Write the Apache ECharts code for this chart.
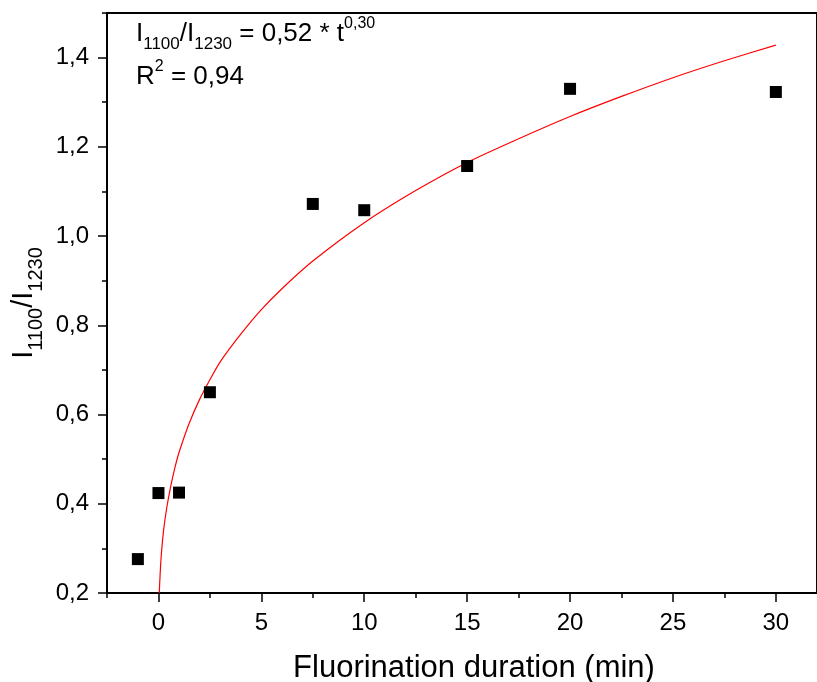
<!DOCTYPE html>
<html>
<head>
<meta charset="utf-8">
<script src="https://cdn.jsdelivr.net/npm/echarts@6/dist/echarts.min.js"></script>
<style>
html,body{margin:0;padding:0;background:#fff;}
#chart{width:817px;height:682px;}
</style>
</head>
<body>
<div id="chart"></div>
<script>
// Measured points
const durations = [-1, 0, 1, 2.5, 7.5, 10, 15, 20, 30];
const ratios = [0.276, 0.424, 0.425, 0.650, 1.072, 1.058, 1.157, 1.330, 1.323];

// Fitted curve
const fitT = [0.04, 0.06, 0.1, 0.15, 0.25, 0.4, 0.6, 0.8, 1, 1.5, 2, 2.5, 3, 4, 5, 6, 7.5, 10, 12.5, 15, 17.5, 20, 22.5, 25, 27.5, 30];
const fitY = [0.2, 0.221, 0.258, 0.292, 0.341, 0.39, 0.44, 0.481, 0.515, 0.581, 0.634, 0.678, 0.718, 0.780, 0.835, 0.882, 0.944, 1.030, 1.102, 1.165, 1.218, 1.268, 1.313, 1.355, 1.393, 1.428];

// Ticks
const xTickValues = [0, 5, 10, 15, 20, 25, 30];
const xMinorValues = [-2.5, 2.5, 7.5, 12.5, 17.5, 22.5, 27.5];
const yTickValues = [0.2, 0.4, 0.6, 0.8, 1.0, 1.2, 1.4];
const yMinorValues = [0.3, 0.5, 0.7, 0.9, 1.1, 1.3, 1.5];

const FONT = "'Liberation Sans', Arial, Helvetica, sans-serif";
const chart = echarts.init(document.getElementById('chart'));

const pointData = durations.map((d, i) => [d, ratios[i]]);
const fitData = fitT.map((t, i) => [t, fitY[i]]);

const axisLineStyle = { color: '#000', width: 2 };

const annRich = {
  m: { fontSize: 26, lineHeight: 46, fontFamily: FONT, padding: [11, 0, 0, 0], verticalAlign: 'top', fill: '#000' },
  s: { fontSize: 17, lineHeight: 46, fontFamily: FONT, padding: [26, 0, 0, 0], verticalAlign: 'top', fill: '#000' },
  p: { fontSize: 16, lineHeight: 46, fontFamily: FONT, padding: [6, 0, 0, 0], verticalAlign: 'top', fill: '#000' }
};

chart.setOption({
  animation: false,
  backgroundColor: '#fff',
  grid: {
    left: 107, top: 13, right: 0, bottom: 89,
    show: true, borderColor: '#000', borderWidth: 2, backgroundColor: 'transparent'
  },
  xAxis: [
    {
      type: 'value', min: -2.5, max: 32, position: 'bottom',
      axisLine: { show: true, onZero: false, lineStyle: axisLineStyle },
      axisTick: { show: true, customValues: xTickValues, length: 9, lineStyle: { color: '#000', width: 1.5 } },
      axisLabel: { customValues: xTickValues, fontSize: 24, fontFamily: FONT, color: '#000', margin: 18,
        formatter: v => String(v).replace('.', ',') },
      splitLine: { show: false }
    },
    {
      type: 'value', min: -2.5, max: 32, position: 'bottom', offset: 0,
      axisLine: { show: false, onZero: false },
      axisTick: { show: true, customValues: xMinorValues, length: 5, lineStyle: { color: '#000', width: 1.5 } },
      axisLabel: { show: false },
      splitLine: { show: false }
    }
  ],
  yAxis: [
    {
      type: 'value', min: 0.2, max: 1.5, position: 'left',
      axisLine: { show: true, onZero: false, lineStyle: axisLineStyle },
      axisTick: { show: true, customValues: yTickValues, length: 9, lineStyle: { color: '#000', width: 1.5 } },
      axisLabel: { customValues: yTickValues, fontSize: 24, fontFamily: FONT, color: '#000', margin: 18,
        formatter: v => v.toFixed(1).replace('.', ',') },
      splitLine: { show: false }
    },
    {
      type: 'value', min: 0.2, max: 1.5, position: 'left', offset: 0,
      axisLine: { show: false, onZero: false },
      axisTick: { show: true, customValues: yMinorValues, length: 5, lineStyle: { color: '#000', width: 1.5 } },
      axisLabel: { show: false },
      splitLine: { show: false }
    }
  ],
  series: [
    {
      type: 'line', data: fitData, xAxisIndex: 0, yAxisIndex: 0,
      showSymbol: false, smooth: 0.25,
      lineStyle: { color: '#ff0000', width: 1.2 }, z: 2, clip: true
    },
    {
      type: 'scatter', data: pointData, xAxisIndex: 0, yAxisIndex: 0,
      symbol: 'rect', symbolSize: 12,
      itemStyle: { color: '#000', opacity: 1 }, z: 3
    }
  ],
  graphic: [
    {
      type: 'text', x: 136, y: 9.6,
      style: {
        text: '{m|I}{s|1100}{m|/I}{s|1230}{m| = 0,52 * t}{p|0,30}',
        fill: '#000', verticalAlign: 'top', align: 'left', rich: annRich
      }
    },
    {
      type: 'text', x: 136, y: 52.9,
      style: {
        text: '{m|R}{p|2}{m| = 0,94}',
        fill: '#000', verticalAlign: 'top', align: 'left', rich: annRich
      }
    },
    {
      type: 'text', x: 9.8, y: 303, rotation: Math.PI / 2,
      style: {
        text: '{m|I}{s|1100}{m|/I}{s|1230}',
        fill: '#000', verticalAlign: 'top', align: 'center',
        rich: {
          m: { fontSize: 29, lineHeight: 40, fontFamily: FONT, padding: [0, 0, 0, 0], verticalAlign: 'top', fill: '#000' },
          s: { fontSize: 20, lineHeight: 40, fontFamily: FONT, padding: [17, 0, 0, 0], verticalAlign: 'top', fill: '#000' }
        }
      }
    },
    {
      type: 'text', x: 474, y: 668,
      style: {
        text: 'Fluorination duration (min)',
        fill: '#000', font: '31px ' + FONT, align: 'center', verticalAlign: 'middle'
      }
    }
  ]
});
</script>
</body>
</html>
